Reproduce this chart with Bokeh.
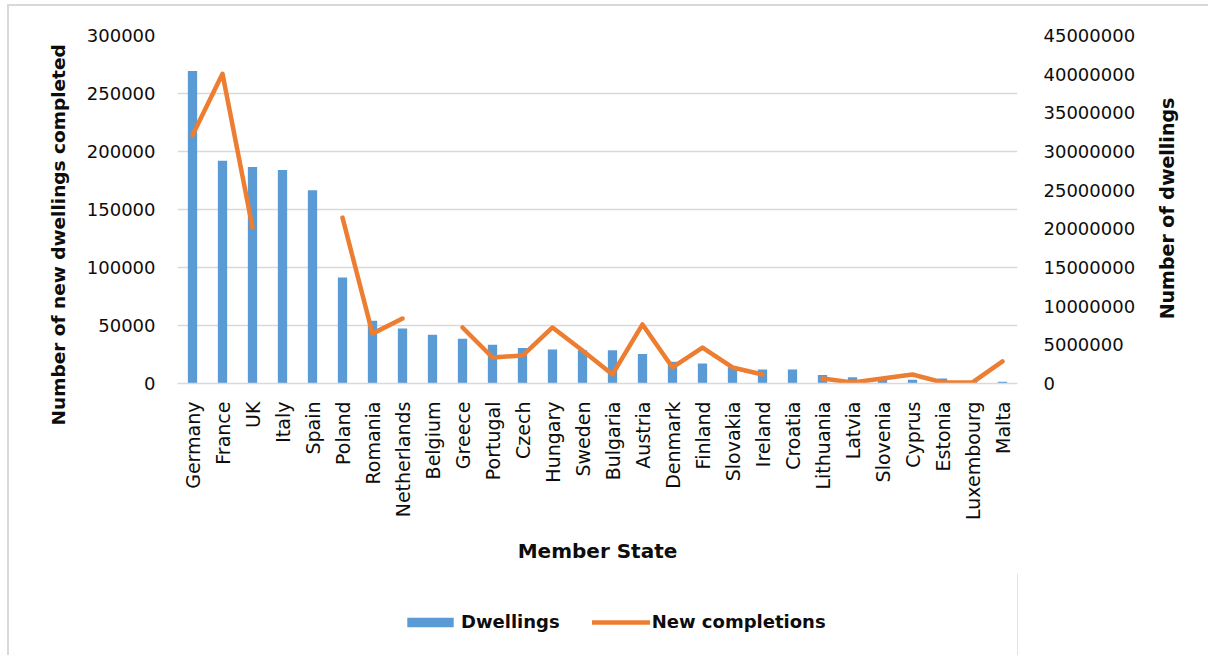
import math
from bokeh.plotting import figure
from bokeh.layouts import column, row
from bokeh.models import (FactorRange, Range1d, LinearAxis, FixedTicker,
                          NumeralTickFormatter, Legend, LegendItem, Title,
                          Label, ColumnDataSource)
from bokeh.embed import file_html
from bokeh.resources import INLINE

countries = ["Germany", "France", "UK", "Italy", "Spain", "Poland", "Romania",
             "Netherlands", "Belgium", "Greece", "Portugal", "Czech", "Hungary",
             "Sweden", "Bulgaria", "Austria", "Denmark", "Finland", "Slovakia",
             "Ireland", "Croatia", "Lithuania", "Latvia", "Slovenia", "Cyprus",
             "Estonia", "Luxembourg", "Malta"]

# Number of dwellings (right axis)
dwellings = [40400000, 28800000, 28000000, 27600000, 25000000, 13700000, 8100000,
             7100000, 6300000, 5800000, 5000000, 4600000, 4400000,
             4300000, 4300000, 3800000, 2800000, 2600000, 2100000,
             1800000, 1800000, 1100000, 820000, 850000, 480000,
             650000, 220000, 220000]

# New dwellings completed (left axis); None = no data
new_completions = [214000, 267000, 134500, None, None, 143000, 43000,
                   56000, None, 48300, 22400, 24100, 48300,
                   28400, 7800, 50900, 13800, 31000, 13800,
                   7800, None, 4300, 900, 4300, 7800,
                   900, 900, 19000]

left_ticks = [0, 50000, 100000, 150000, 200000, 250000, 300000]
right_ticks = [0, 5000000, 10000000, 15000000, 20000000, 25000000, 30000000,
               35000000, 40000000, 45000000]

nc = [float("nan") if v is None else v for v in new_completions]
src = ColumnDataSource(dict(country=countries, dw=dwellings, nc=nc))

FONT = "DejaVu Sans"
TXT = "#0d0d0d"
GRID = "#d9d9d9"
BAR = "#5b9bd5"
LINE = "#ed7d31"

p = figure(width=1133, height=567,
           x_range=FactorRange(*countries),
           y_range=Range1d(0, 300000),
           output_backend="svg", toolbar_location=None,
           min_border_left=168, min_border_right=125,
           min_border_top=29, min_border_bottom=190)
p.extra_y_ranges = {"dw": Range1d(0, 45000000)}
p.outline_line_color = None
p.background_fill_color = "white"
p.border_fill_color = "white"

p.xgrid.visible = False
p.ygrid.ticker = FixedTicker(ticks=left_ticks)
p.ygrid.grid_line_color = GRID
p.ygrid.grid_line_width = 1.5

p.vbar(x="country", top="dw", width=0.31, source=src,
       y_range_name="dw", fill_color=BAR, line_color=None)
p.line(x="country", y="nc", source=src, line_color=LINE,
       line_width=4.5, line_join="round", line_cap="round")

# left axis
ya = p.yaxis[0]
ya.ticker = FixedTicker(ticks=left_ticks)
ya.formatter = NumeralTickFormatter(format="0")
ya.axis_line_color = None
ya.major_tick_line_color = None
ya.minor_tick_line_color = None
ya.major_tick_in = 0
ya.major_tick_out = 0
ya.major_label_standoff = 22
ya.major_label_text_font = FONT
ya.major_label_text_font_size = "18px"
ya.major_label_text_color = TXT

# right axis (ticks only; its title is drawn in the strip on the right)
ra = LinearAxis(y_range_name="dw", ticker=FixedTicker(ticks=right_ticks),
                formatter=NumeralTickFormatter(format="0"))
ra.axis_line_color = None
ra.major_tick_line_color = None
ra.minor_tick_line_color = None
ra.major_tick_in = 0
ra.major_tick_out = 0
ra.major_label_standoff = 26
ra.major_label_text_font = FONT
ra.major_label_text_font_size = "18px"
ra.major_label_text_color = TXT
p.add_layout(ra, "right")

# bottom axis
xa = p.xaxis[0]
xa.axis_line_color = GRID
xa.axis_line_width = 1.5
xa.major_tick_line_color = None
xa.minor_tick_line_color = None
xa.major_tick_in = 0
xa.major_tick_out = 0
xa.major_label_orientation = math.pi / 2
xa.major_label_standoff = 18
xa.major_label_text_font = FONT
xa.major_label_text_font_size = "19px"
xa.major_label_text_color = TXT
xa.axis_label = "Member State"
xa.axis_label_standoff = 16
xa.axis_label_text_font = FONT
xa.axis_label_text_font_style = "bold"
xa.axis_label_text_font_size = "20px"
xa.axis_label_text_color = TXT

# left axis title
p.add_layout(Title(text="Number of new dwellings completed", align="left",
                   offset=-42, standoff=30,
                   text_font=FONT, text_font_style="bold",
                   text_font_size="18.5px", text_color=TXT), "left")

# right axis title strip
r = figure(width=66, height=567, x_range=Range1d(0, 1), y_range=Range1d(0, 1),
           output_backend="svg", toolbar_location=None,
           x_axis_type=None, y_axis_type=None,
           min_border_left=0, min_border_right=0,
           min_border_top=29, min_border_bottom=190)
r.outline_line_color = None
r.xgrid.visible = False
r.ygrid.visible = False
r.background_fill_color = None
r.border_fill_color = None
r.add_layout(Label(x=24, y=175, x_units="screen", y_units="screen",
                   text="Number of dwellings", angle=math.pi / 2,
                   text_align="center", text_baseline="middle",
                   text_font=FONT, text_font_style="bold",
                   text_font_size="19px", text_color=TXT))

# legend strip below the chart (frame aligned with the main chart)
q = figure(width=1133, height=82, x_range=Range1d(0, 1), y_range=Range1d(0, 1),
           output_backend="svg", toolbar_location=None,
           x_axis_type=None, y_axis_type=None,
           min_border_left=168, min_border_right=125,
           min_border_top=0, min_border_bottom=0)
q.outline_line_color = None
q.xgrid.visible = False
q.ygrid.visible = False
q.background_fill_color = None
q.border_fill_color = None
lb = q.vbar(x=[5], top=[5], width=0.31, fill_color=BAR, line_color=None)
ll = q.line(x=[5, 6], y=[5, 5], line_color=LINE, line_width=4.5, line_cap="round")

legend = Legend(items=[LegendItem(label="Dwellings", renderers=[lb]),
                       LegendItem(label="New completions", renderers=[ll])],
                location=(224, 23), orientation="horizontal",
                glyph_width=58, glyph_height=12, label_standoff=2,
                padding=0, margin=0, spacing=32, border_line_color=None,
                background_fill_alpha=0, label_height=20,
                label_text_font=FONT, label_text_font_style="bold",
                label_text_font_size="18px", label_text_color=TXT)
q.add_layout(legend)

layout = row(column(p, q, spacing=0), r, spacing=0)
layout.margin = (4, 0, 0, 7)
layout.styles = {"border-top": "2px solid #d9d9d9", "border-left": "2px solid #d9d9d9",
                 "background-color": "white"}

open("out.html", "w").write(file_html(layout, INLINE))
